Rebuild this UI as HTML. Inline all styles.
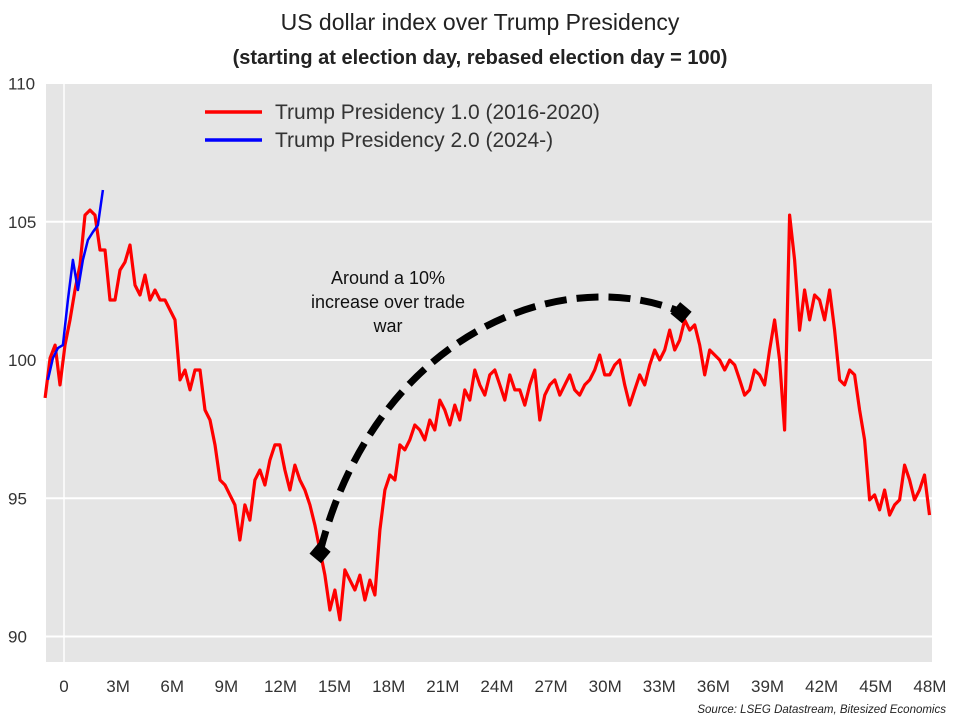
<!DOCTYPE html>
<html><head><meta charset="utf-8"><style>
body{margin:0;background:#fff;}
svg text{font-family:"Liberation Sans",sans-serif;}
</style></head><body>
<svg id="chart" width="960" height="720" xmlns="http://www.w3.org/2000/svg">
<text x="480" y="30" text-anchor="middle" font-size="23" fill="#222">US dollar index over Trump Presidency</text>
<text x="480" y="64" text-anchor="middle" font-size="20" font-weight="bold" fill="#222">(starting at election day, rebased election day = 100)</text>
<rect x="46" y="84" width="886" height="578" fill="#e5e5e5"/>
<g id="grid"></g>
<g id="yticks"></g>
<g id="xticks"></g>
<g id="series"></g>
<g>
<path d="M320,552 C375,335 560,262 681,312" fill="none" stroke="#000" stroke-width="7" stroke-dasharray="22,10"/>
<rect x="313" y="545" width="15" height="15" transform="rotate(40 320 552)" fill="#000"/>
<rect x="674" y="305" width="15" height="15" transform="rotate(40 681 312)" fill="#000"/>
<text x="388" y="284" text-anchor="middle" font-size="18" fill="#111"><tspan x="388">Around a 10%</tspan><tspan x="388" dy="24">increase over trade</tspan><tspan x="388" dy="24">war</tspan></text>
</g>
<g>
<line x1="205" y1="112" x2="262" y2="112" stroke="#ff0000" stroke-width="3.5"/>
<text x="275" y="119" font-size="21" fill="#333">Trump Presidency 1.0 (2016-2020)</text>
<line x1="205" y1="140" x2="262" y2="140" stroke="#0000ff" stroke-width="3.5"/>
<text x="275" y="147" font-size="21" fill="#333">Trump Presidency 2.0 (2024-)</text>
</g>
<text x="946" y="713" text-anchor="end" font-size="11.5" font-style="italic" fill="#222">Source: LSEG Datastream, Bitesized Economics</text>
</svg>
<script>
const yTicks=[90,95,100,105,110];
const xTicks=[0,3,6,9,12,15,18,21,24,27,30,33,36,39,42,45,48];
const xTickLabels=["0","3M","6M","9M","12M","15M","18M","21M","24M","27M","30M","33M","36M","39M","42M","45M","48M"];
const trump1Start=-1.05, trump1Step=0.277;
const trump1Values=[98.63,100.07,100.54,99.10,100.54,101.45,102.53,103.44,105.24,105.42,105.24,103.98,103.98,102.17,102.17,103.25,103.54,104.16,102.71,102.35,103.07,102.17,102.53,102.17,102.17,101.81,101.45,99.28,99.64,98.92,99.64,99.64,98.19,97.83,96.93,95.66,95.48,95.12,94.76,93.49,94.76,94.21,95.66,96.02,95.48,96.38,96.93,96.93,96.02,95.30,96.20,95.66,95.30,94.76,94.03,93.13,92.22,90.96,91.68,90.60,92.41,92.04,91.68,92.22,91.32,92.04,91.50,93.85,95.30,95.84,95.66,96.93,96.75,97.11,97.65,97.47,97.11,97.83,97.47,98.55,98.19,97.65,98.37,97.83,98.92,98.55,99.64,99.10,98.73,99.46,99.64,99.10,98.55,99.46,98.92,98.92,98.37,99.10,99.64,97.83,98.73,99.10,99.28,98.73,99.10,99.46,98.92,98.73,99.10,99.28,99.64,100.18,99.46,99.46,99.82,100.00,99.10,98.37,98.92,99.46,99.10,99.82,100.36,100.00,100.36,101.08,100.36,100.72,101.45,101.08,101.27,100.54,99.46,100.36,100.18,100.00,99.64,100.00,99.82,99.28,98.73,98.92,99.64,99.46,99.10,100.36,101.45,100.00,97.47,105.24,103.62,101.08,102.53,101.45,102.35,102.17,101.45,102.53,101.08,99.28,99.10,99.64,99.46,98.19,97.11,94.94,95.12,94.58,95.30,94.39,94.76,94.94,96.20,95.66,94.94,95.30,95.84,94.39];
const trump2Start=-0.89, trump2Step=0.277;
const trump2Values=[99.28,100.07,100.43,100.54,102.17,103.62,102.53,103.62,104.34,104.63,104.88,106.15];

const NS="http://www.w3.org/2000/svg";
const X=m=>64+m*18.04;
const Y=v=>360-(v-100)*27.65;
function mk(tag,attrs,parent){const e=document.createElementNS(NS,tag);for(const k in attrs)e.setAttribute(k,attrs[k]);parent.appendChild(e);return e;}
const grid=document.getElementById('grid'),yg=document.getElementById('yticks'),xg=document.getElementById('xticks'),sg=document.getElementById('series');
yTicks.forEach(v=>{
  if(v<110){const l=mk('line',{x1:46,x2:932,y1:Y(v),y2:Y(v),stroke:'#fff','stroke-width':2},grid);
  
  }
  const t=mk('text',{x:8,y:Y(v)+6,'font-size':17,fill:'#333'},yg);t.textContent=v;
  
  
});
const vl=mk('line',{x1:X(0),x2:X(0),y1:84,y2:662,stroke:'#fff','stroke-width':1.5},grid);


xTicks.forEach((m,i)=>{
  const t=mk('text',{x:X(m),y:692,'text-anchor':'middle','font-size':17,fill:'#333'},xg);t.textContent=xTickLabels[i];
  
  
});
function path(start,step,vals){return vals.map((v,i)=>(i?'L':'M')+X(start+i*step).toFixed(1)+','+Y(v).toFixed(1)).join(' ');}
const p1=mk('path',{d:path(trump1Start,trump1Step,trump1Values),fill:'none',stroke:'#ff0000','stroke-width':3.2,'stroke-linejoin':'round'},sg);


const p2=mk('path',{d:path(trump2Start,trump2Step,trump2Values),fill:'none',stroke:'#0000ff','stroke-width':2.5,'stroke-linejoin':'round'},sg);


</script>
</body></html>
